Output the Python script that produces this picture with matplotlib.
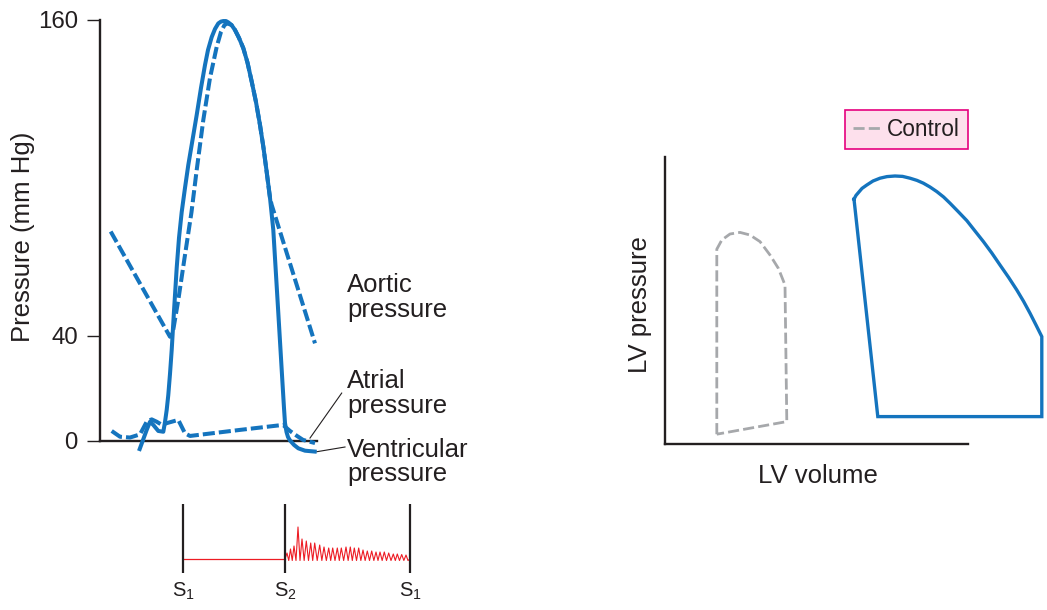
import numpy as np
import matplotlib
matplotlib.use('Agg')
import matplotlib.pyplot as plt
from matplotlib.lines import Line2D

plt.rcParams['font.family'] = 'Liberation Sans'
plt.rcParams['mathtext.fontset'] = 'custom'
plt.rcParams['mathtext.rm'] = 'Liberation Sans'

W, H = 1047, 610
blue = '#1474be'
gray = '#a6a8ab'
red = '#ed1c24'
ink = '#231f20'

# --- pressure tracings (time in arbitrary units, pressure in mm Hg) ---
vent_t = [39, 46.7, 50, 53.3, 58.3, 63.3, 65, 66.7, 68.3, 70, 71.7, 74, 76.7, 79, 81.7, 85,
          88.3, 92.5, 96.7, 101, 105, 108, 111.7, 115, 118.3, 121, 123.3, 126, 128.3, 131.5,
          135, 139, 143.3, 147.5, 151.7, 156, 160, 163.5, 166.7, 170, 173.3, 178.3, 182.3,
          184, 185, 186.5, 188, 190, 194, 198.3, 205, 216.7]
vent_p = [-3.8, 4.2, 7.3, 6.1, 3.8, 3.5, 7.2, 11.8, 17.5, 25.5, 34.6, 49.4, 65.8, 77.2, 87.0,
          96.2, 104.9, 114.4, 123.9, 134.2, 142.9, 148.6, 153.5, 156.6, 158.7, 159.4, 159.6,
          159.6, 159.1, 158.1, 156.2, 153.2, 149.3, 143.8, 136.6, 128.8, 120.1, 111.4, 102.2,
          92.4, 80.2, 48.7, 23.2, 12.5, 6.8, 3.4, 1.5, 0.2, -1.5, -2.8, -3.7, -4.1]

aortic_t = [10.7, 70, 72.7, 78.3, 85, 91.5, 96.7, 103.3, 110, 116.7, 121, 124.5, 127.5, 131.5,
            135, 139, 143.3, 147.5, 151.7, 156, 160, 163.5, 166.7, 170, 171.7, 215]
aortic_p = [79.6, 39.6, 41.0, 53.6, 70.7, 87.0, 103.0, 122.0, 138.0, 149.8, 155.5, 158.1, 158.7,
            158.1, 156.2, 153.2, 149.3, 143.8, 136.6, 128.8, 120.1, 111.4, 102.2, 92.4, 89.7, 37.1]

atrial_t = [11.7, 20, 30, 40, 46.7, 51.7, 56.7, 62, 67, 71.7, 78.3, 81.7, 85, 90, 140, 183,
            190, 197, 203, 215]
atrial_p = [3.8, 1.6, 1.3, 2.5, 7.3, 8.2, 7.3, 6.1, 6.8, 7.3, 8.0, 5.4, 2.9, 1.9, 4.2, 6.1,
            3.8, 1.9, 0.4, -0.8]

pressure_ticks = [0, 40, 160]

# --- heart sounds ---
sound_t = [83, 185, 310]
sound_names = ['S$_{\\mathregular{1}}$', 'S$_{\\mathregular{2}}$', 'S$_{\\mathregular{1}}$']
murmur_t = [187, 190.5, 194, 198, 202, 206.3, 210.7, 214.7, 219.7, 224, 228.7, 232.7, 237.3,
            241.3, 246, 250.3, 254.3, 258.7, 263, 267.3, 271.7, 276, 280, 284.3, 288.7, 293.3,
            297.3, 301.7, 306]
murmur_amp = [6, 10, 13, 32, 20, 18, 16, 16, 14, 12, 11, 11, 11, 11, 12, 12, 11, 11, 9, 8, 8,
              7, 7, 7, 6, 5, 5, 4.5, 4]
murmur_trough = -1.5

# --- pressure-volume loops ---
control_vol = [25.9, 25.9, 28.4, 32.5, 37.5, 42.5, 47.5, 52.5, 56.7, 60, 60.9, 25.9]
control_pres = [4.9, 97.4, 102, 105, 105.8, 104.5, 101.2, 94.5, 87.8, 79.5, 11.2, 4.9]
loop_vol = [94.5, 95.5, 96.7, 98.5, 100.9, 104, 107.5, 111, 115, 118.8, 122.5, 126, 129.2, 132.5,
            135.9, 139.3, 142.5, 146.5, 150.9, 155, 159.2, 163.4, 167.5, 171.8, 175.9, 179.3,
            182.5, 185.5, 188.4, 188.4, 106.4, 94.5]
loop_pres = [122.4, 124.3, 125.7, 127.8, 129.5, 131.5, 132.9, 133.7, 134, 133.8, 132.9, 131.8,
             130.4, 128.5, 126.2, 123.5, 120.4, 116.3, 111.7, 106.5, 101.2, 95.5, 89.5, 83.3, 77,
             71.3, 65.4, 59.5, 53.7, 13.7, 13.7, 122.4]


def box(x0, y0, x1, y1):
    return [x0 / W, 1 - y1 / H, (x1 - x0) / W, (y1 - y0) / H]


def fpos(x, y):
    return x / W, 1 - y / H


fig = plt.figure(figsize=(W / 100, H / 100), dpi=100)

# pressure panel
ax = fig.add_axes(box(100, 20, 320, 462))
ax.set_xlim(0, 220)
ax.set_ylim(-8, 160)
ax.plot(vent_t, vent_p, color=blue, lw=2.9, clip_on=False, solid_capstyle='butt', zorder=3)
ax.plot(aortic_t, aortic_p, color=blue, lw=2.9, ls=(0, (3, 1)), clip_on=False, zorder=4)
ax.plot(atrial_t, atrial_p, color=blue, lw=2.9, ls=(0, (3, 1)), clip_on=False, zorder=4)
ax.plot([210, 241.7], [1.1, 18.2], color=ink, lw=0.8, clip_on=False)
ax.plot([216.7, 245], [-4.1, -2.3], color=ink, lw=0.8, clip_on=False)
for s in ['top', 'right']:
    ax.spines[s].set_visible(False)
ax.spines['left'].set_bounds(0, 160)
ax.spines['bottom'].set_position(('data', 0))
ax.spines['bottom'].set_bounds(0, 217)
for s in ['left', 'bottom']:
    ax.spines[s].set_linewidth(1.7)
    ax.spines[s].set_color(ink)
ax.set_xticks([])
ax.set_yticks(pressure_ticks)
ax.tick_params(axis='y', length=9.4, width=1.0, color=ink, pad=6.5, labelsize=17.3, labelcolor=ink)

fig.text(*fpos(23, 237), 'Pressure (mm Hg)', rotation=90, ha='center', va='center', fontsize=18.5, color=ink)
for txt, y in [('Aortic', 292), ('pressure', 317), ('Atrial', 388), ('pressure', 413),
               ('Ventricular', 457), ('pressure', 481)]:
    fig.text(*fpos(347, y), txt, ha='left', va='baseline', fontsize=18.5, color=ink)

# heart sound panel
axs = fig.add_axes(box(100, 500, 420, 575))
axs.set_xlim(0, 320)
axs.set_ylim(-16, 59)
axs.axis('off')
zig_t = [sound_t[1]]
zig_a = [0]
for i, (t, a) in enumerate(zip(murmur_t, murmur_amp)):
    nxt = murmur_t[i + 1] if i + 1 < len(murmur_t) else sound_t[2]
    zig_t += [t, (t + nxt) / 2]
    zig_a += [a, murmur_trough]
zig_t.append(sound_t[2])
zig_a.append(0)
axs.plot([sound_t[0], sound_t[1]], [0, 0], color=red, lw=0.9)
axs.plot(zig_t, zig_a, color=red, lw=0.8)
axs.vlines(sound_t, -14, 55, color=ink, lw=1.6)
for t, name in zip(sound_t, sound_names):
    axs.text(t, -38, name, ha='center', va='baseline', fontsize=14.5, color=ink, clip_on=False)

# pressure-volume panel
ax2 = fig.add_axes(box(665, 157, 1045, 444))
ax2.set_xlim(0, 190)
ax2.set_ylim(0, 143.5)
ax2.plot(control_vol, control_pres, color=gray, lw=2.0, ls=(0, (4, 1.5)), clip_on=False)
ax2.plot(loop_vol, loop_pres, color=blue, lw=2.4, clip_on=False, solid_joinstyle='miter')
for s in ['top', 'right']:
    ax2.spines[s].set_visible(False)
ax2.spines['bottom'].set_bounds(0, 151.5)
for s in ['left', 'bottom']:
    ax2.spines[s].set_linewidth(1.7)
    ax2.spines[s].set_color(ink)
ax2.set_xticks([])
ax2.set_yticks([])
fig.text(*fpos(640, 305), 'LV pressure', rotation=90, ha='center', va='center', fontsize=18.5, color=ink)
fig.text(*fpos(818, 476), 'LV volume', ha='center', va='center', fontsize=18.5, color=ink)

handle = Line2D([], [], color=gray, lw=2.0, ls=(0, (4, 1.5)))
leg = ax2.legend([handle], ['Control'], loc='upper left', bbox_to_anchor=fpos(845, 110),
                 bbox_transform=fig.transFigure, frameon=True, fancybox=False,
                 facecolor='#fde0ec', edgecolor='#e5007e', framealpha=1, fontsize=16.3,
                 handlelength=1.2, handletextpad=0.3, borderpad=0.35, borderaxespad=0)
leg.get_frame().set_linewidth(1.2)
for t in leg.get_texts():
    t.set_color(ink)

fig.savefig('out.png', dpi=100)
